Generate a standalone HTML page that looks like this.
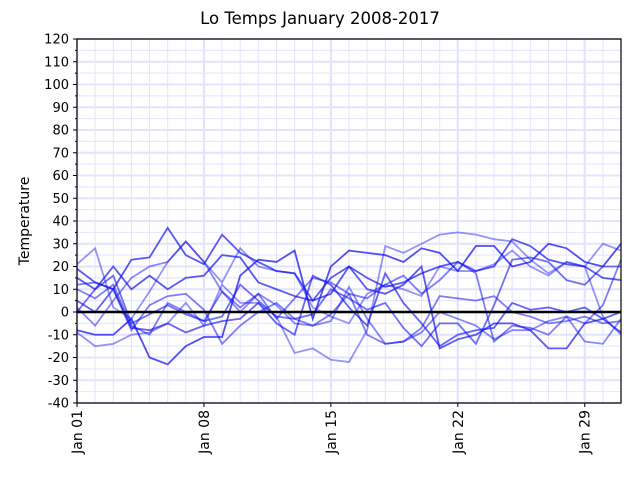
<!DOCTYPE html><html><head><style>body{margin:0;background:#fff}svg{display:block;font-family:"DejaVu Sans","Liberation Sans",sans-serif}</style></head><body>
<svg id="s" width="640" height="480" xmlns="http://www.w3.org/2000/svg"></svg>
<script>
const s=document.getElementById('s');let h='';
const X=d=>77+d*(544/30),Y=v=>312-v*2.275;
h+='<text x="320" y="24" font-size="16.5" text-anchor="middle">Lo Temps January 2008-2017</text>';
for(let d=0;d<=30;d++){let x=X(d);h+=`<line x1="${x}" y1="39" x2="${x}" y2="403" stroke="#e3e3ff" stroke-width="${d%7==0?2.2:1}"/>`;}
for(let v=-40;v<=120;v+=5){let y=Y(v);h+=`<line x1="77" y1="${y}" x2="621" y2="${y}" stroke="#e3e3ff" stroke-width="${v%10==0?2:1}"/>`;
h+=`<line x1="${v%10==0?73:75}" y1="${y}" x2="77" y2="${y}" stroke="#000"/>`;
if(v%10==0)h+=`<text x="69" y="${y+4.5}" font-size="13" text-anchor="end">${v}</text>`;}
const data=[
[19,13,10,23,24,37,25,21,34,26,22,18,17,5,8,20,15,11,13,17,20,22,18,20,32,29,23,21,20,15,14],
[21,28,2,-3,9,22,31,22,13,28,20,18,17,2,-2,-5,8,12,10,7,20,18,18,21,27,20,16,22,20,30,27],
[10,6,12,-6,-10,4,0,-4,9,2,8,-3,6,15,13,8,-10,-14,-13,-7,7,6,5,7,0,-2,-5,-4,-2,-5,-4],
[-8,-10,-10,-3,-20,-23,-15,-11,-11,16,23,22,27,-3,20,27,26,25,22,28,26,18,29,29,20,22,30,28,22,20,30],
[5,0,10,-7,-8,-5,-9,-6,-4,-3,4,-5,-10,16,12,2,-6,17,4,-5,-15,-10,-8,-7,4,1,2,0,2,-3,0],
[-9,-15,-14,-10,-9,-5,4,-6,12,4,4,-2,-18,-16,-21,-22,-8,29,26,30,34,35,34,32,31,23,17,22,20,-2,-10],
[2,-6,5,15,20,22,31,22,9,0,8,3,-5,-6,-4,11,-3,-14,-13,-9,0,-3,-6,-12,-8,-8,-4,-2,-13,-14,-3],
[15,10,20,10,16,10,15,16,25,24,13,10,7,5,15,20,10,8,12,20,-16,-12,-10,-5,-5,-8,-16,-16,-5,-3,-9],
[12,13,10,-8,3,7,8,1,-14,-6,0,4,-3,-6,-1,8,6,12,16,8,14,22,17,-13,-6,-7,-10,-2,-5,3,23],
[0,10,16,-5,-1,3,-1,-4,-2,12,5,-2,-3,-1,10,6,1,4,-7,-15,-5,-5,-14,3,23,24,22,14,12,20,20]];
const al=[0.7,0.45,0.55,0.75,0.65,0.45,0.5,0.7,0.55,0.6];
data.forEach((a,i)=>{h+=`<polyline fill="none" stroke="rgb(20,20,240)" stroke-opacity="${al[i]}" stroke-width="1.8" points="${a.map((v,d)=>X(d)+','+Y(v)).join(' ')}"/>`;});
h+=`<line x1="77" y1="312" x2="621" y2="312" stroke="#000" stroke-width="2.5"/>`;
h+=`<rect x="77" y="39" width="544" height="364" fill="none" stroke="#000" stroke-width="1.2"/>`;
['Jan 01','Jan 08','Jan 15','Jan 22','Jan 29'].forEach((t,i)=>{let x=X(i*7);h+=`<line x1="${x}" y1="403" x2="${x}" y2="407" stroke="#000"/><text transform="translate(${x+5},410) rotate(-90)" font-size="14" text-anchor="end">${t}</text>`;});
h+=`<text transform="translate(29,221) rotate(-90)" font-size="14" text-anchor="middle">Temperature</text>`;
s.innerHTML=h;
</script></body></html>
